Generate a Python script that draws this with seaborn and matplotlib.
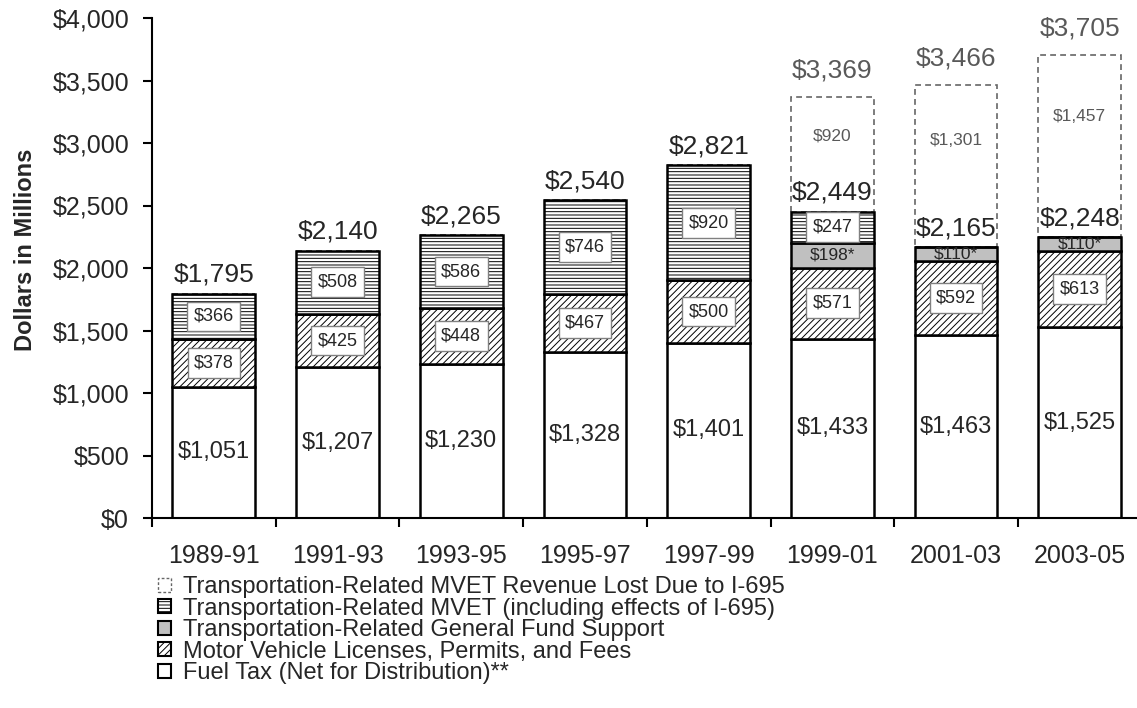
import numpy as np
import matplotlib
matplotlib.use("Agg")
import matplotlib.pyplot as plt
from matplotlib.ticker import FuncFormatter, FixedLocator
from matplotlib.patches import Patch
import seaborn as sns

# Transportation revenue by biennium, dollars in millions
periods = ["1989-91", "1991-93", "1993-95", "1995-97", "1997-99", "1999-01", "2001-03", "2003-05"]
fuel_tax = [1051, 1207, 1230, 1328, 1401, 1433, 1463, 1525]
mv_fees = [378, 425, 448, 467, 500, 571, 592, 613]
general_fund = [0, 0, 0, 0, 0, 198, 110, 110]
mvet = [366, 508, 586, 746, 920, 247, 0, 0]
mvet_lost = [0, 0, 0, 0, 0, 920, 1301, 1457]
totals = [1795, 2140, 2265, 2540, 2821, 2449, 2165, 2248]
totals_before_i695 = [0, 0, 0, 0, 0, 3369, 3466, 3705]

legend_labels = [
    "Transportation-Related MVET Revenue Lost Due to I-695",
    "Transportation-Related MVET (including effects of I-695)",
    "Transportation-Related General Fund Support",
    "Motor Vehicle Licenses, Permits, and Fees",
    "Fuel Tax (Net for Distribution)**",
]

sns.set_theme(style="ticks")
plt.rcParams["font.family"] = ["Liberation Sans", "DejaVu Sans"]
plt.rcParams["hatch.linewidth"] = 0.7
plt.rcParams["hatch.color"] = "black"

GRAY_TXT = "#595959"
DASH_EC = "#666666"

fig = plt.figure(figsize=(11.37, 7.08), dpi=100)
ax = fig.add_axes([152 / 1137, 1 - 518 / 708, 985 / 1137, 500 / 708])

# stacking styles, bottom to top
solid = dict(edgecolor="black", linewidth=1.8, zorder=2)
styles = [
    dict(color="white", facecolor="white", **solid),
    dict(color="white", facecolor="white", hatch="/////", **solid),
    dict(color="#c0c0c0", facecolor="#c0c0c0", **solid),
    dict(color="white", facecolor="white", hatch="-----", **solid),
    dict(color="white", facecolor="none", edgecolor=DASH_EC, linewidth=1.2,
         linestyle=(0, (3.5, 2.5)), zorder=1),
]
layers = [fuel_tax, mv_fees, general_fund, mvet, mvet_lost]

bottom = np.zeros(len(periods))
bottoms = []
for vals, st in zip(layers, styles):
    vals = np.array(vals, dtype=float)
    sns.barplot(x=periods, y=vals, bottom=bottom, width=0.67, errorbar=None,
                saturation=1, ax=ax, **st)
    bottoms.append(bottom.copy())
    bottom = bottom + vals

box = dict(boxstyle="square,pad=0.35", fc="white", ec="#808080", lw=1)
for i in range(len(periods)):
    ax.text(i, fuel_tax[i] / 2, f"${fuel_tax[i]:,}", ha="center", va="center", fontsize=17)
    ax.text(i, bottoms[1][i] + mv_fees[i] / 2, f"${mv_fees[i]:,}", ha="center", va="center",
            fontsize=13, bbox=box)
    if general_fund[i] > 0:
        ax.text(i, bottoms[2][i] + general_fund[i] / 2, f"${general_fund[i]:,}*", ha="center",
                va="center", fontsize=12.5)
    if mvet[i] > 0:
        ax.text(i, bottoms[3][i] + mvet[i] / 2, f"${mvet[i]:,}", ha="center", va="center",
                fontsize=13, bbox=box)
    ax.annotate(f"${totals[i]:,}", (i, bottoms[4][i]), xytext=(0, 5), textcoords="offset points",
                ha="center", va="bottom", fontsize=19)
    if mvet_lost[i] > 0:
        ax.text(i, bottoms[4][i] + mvet_lost[i] * 0.66, f"${mvet_lost[i]:,}", ha="center",
                va="center", fontsize=12.5, color=GRAY_TXT)
        ax.annotate(f"${totals_before_i695[i]:,}", (i, bottoms[4][i] + mvet_lost[i]),
                    xytext=(0, 10), textcoords="offset points", ha="center", va="bottom",
                    fontsize=19, color=GRAY_TXT)

# axes styling
ax.set_xlim(-0.5, -0.5 + 985 / 123.7)
ax.set_ylim(0, 4000)
ax.set_yticks(np.arange(0, 4001, 500))
ax.yaxis.set_major_formatter(FuncFormatter(lambda v, p: f"${v:,.0f}"))
ax.xaxis.set_minor_locator(FixedLocator(np.arange(-0.5, len(periods) + 0.5, 1)))
ax.tick_params(axis="x", which="major", length=0, pad=19, labelsize=18)
ax.tick_params(axis="x", which="minor", length=6.5, width=1.5, color="black", direction="out")
ax.tick_params(axis="y", length=6.5, width=1.5, color="black", direction="out", pad=10, labelsize=18)
ax.set_xlabel("")
ax.set_ylabel("Dollars in Millions", fontsize=17, fontweight="bold")
ax.yaxis.set_label_coords(-0.117, 0.536)
for side in ["top", "right"]:
    ax.spines[side].set_visible(False)
for side in ["left", "bottom"]:
    ax.spines[side].set_color("black")
    ax.spines[side].set_linewidth(1.5)
ax.grid(False)

# legend, top entry is the top of the stack
handles = [
    Patch(facecolor="white", edgecolor=DASH_EC, linewidth=1, linestyle=(0, (2, 1.5))),
    Patch(facecolor="white", edgecolor="black", linewidth=1.5, hatch="-----"),
    Patch(facecolor="#c0c0c0", edgecolor="black", linewidth=1.5),
    Patch(facecolor="white", edgecolor="black", linewidth=1.5, hatch="/////"),
    Patch(facecolor="white", edgecolor="black", linewidth=1.5),
]
fig.legend(handles, legend_labels, loc="upper left", bbox_to_anchor=(158 / 1137, 1 - 576 / 708),
           frameon=False, fontsize=17, borderpad=0, borderaxespad=0, handlelength=0.55,
           handleheight=0.55, handletextpad=0.5, labelspacing=-0.02)

fig.savefig("out.png", dpi=100)
